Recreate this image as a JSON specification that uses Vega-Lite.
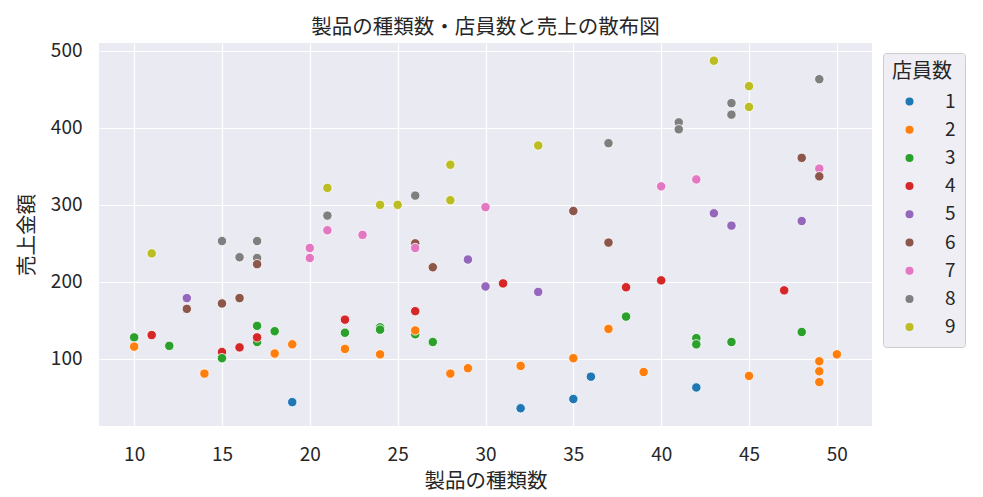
{
  "$schema": "https://vega.github.io/schema/vega-lite/v6.json",
  "width": 773,
  "height": 383,
  "autosize": {"type": "none"},
  "padding": {"left": 99, "top": 43, "right": 111, "bottom": 71},
  "background": "white",
  "title": {
    "text": "製品の種類数・店員数と売上の散布図",
    "font": "Noto Sans CJK JP",
    "fontSize": 20.5,
    "fontWeight": "normal",
    "color": "#262626",
    "baseline": "alphabetic",
    "offset": 11,
    "dy": 24,
    "anchor": "middle"
  },
  "config": {
    "view": {"fill": "#EAEAF2", "stroke": null},
    "font": "Noto Sans CJK JP"
  },
  "data": {
    "values": [
      {"products": 19, "sales": 44, "staff": 1},
      {"products": 32, "sales": 36, "staff": 1},
      {"products": 35, "sales": 48, "staff": 1},
      {"products": 36, "sales": 77, "staff": 1},
      {"products": 42, "sales": 63, "staff": 1},
      {"products": 15, "sales": 109, "staff": 4},
      {"products": 17, "sales": 122, "staff": 3},
      {"products": 26, "sales": 132, "staff": 3},
      {"products": 42, "sales": 127, "staff": 3},
      {"products": 10, "sales": 128, "staff": 3},
      {"products": 12, "sales": 117, "staff": 3},
      {"products": 15, "sales": 101, "staff": 3},
      {"products": 17, "sales": 143, "staff": 3},
      {"products": 18, "sales": 136, "staff": 3},
      {"products": 22, "sales": 134, "staff": 3},
      {"products": 24, "sales": 141, "staff": 3},
      {"products": 24, "sales": 138, "staff": 3},
      {"products": 27, "sales": 122, "staff": 3},
      {"products": 38, "sales": 155, "staff": 3},
      {"products": 42, "sales": 119, "staff": 3},
      {"products": 44, "sales": 122, "staff": 3},
      {"products": 48, "sales": 135, "staff": 3},
      {"products": 10, "sales": 116, "staff": 2},
      {"products": 14, "sales": 81, "staff": 2},
      {"products": 18, "sales": 107, "staff": 2},
      {"products": 19, "sales": 119, "staff": 2},
      {"products": 22, "sales": 113, "staff": 2},
      {"products": 24, "sales": 106, "staff": 2},
      {"products": 26, "sales": 137, "staff": 2},
      {"products": 28, "sales": 81, "staff": 2},
      {"products": 29, "sales": 88, "staff": 2},
      {"products": 32, "sales": 91, "staff": 2},
      {"products": 35, "sales": 101, "staff": 2},
      {"products": 37, "sales": 139, "staff": 2},
      {"products": 39, "sales": 83, "staff": 2},
      {"products": 45, "sales": 78, "staff": 2},
      {"products": 49, "sales": 97, "staff": 2},
      {"products": 49, "sales": 84, "staff": 2},
      {"products": 49, "sales": 70, "staff": 2},
      {"products": 50, "sales": 106, "staff": 2},
      {"products": 11, "sales": 131, "staff": 4},
      {"products": 16, "sales": 115, "staff": 4},
      {"products": 17, "sales": 128, "staff": 4},
      {"products": 22, "sales": 151, "staff": 4},
      {"products": 26, "sales": 162, "staff": 4},
      {"products": 31, "sales": 198, "staff": 4},
      {"products": 38, "sales": 193, "staff": 4},
      {"products": 40, "sales": 202, "staff": 4},
      {"products": 47, "sales": 189, "staff": 4},
      {"products": 13, "sales": 179, "staff": 5},
      {"products": 29, "sales": 229, "staff": 5},
      {"products": 30, "sales": 194, "staff": 5},
      {"products": 33, "sales": 187, "staff": 5},
      {"products": 43, "sales": 289, "staff": 5},
      {"products": 44, "sales": 273, "staff": 5},
      {"products": 48, "sales": 279, "staff": 5},
      {"products": 17, "sales": 231, "staff": 8},
      {"products": 13, "sales": 165, "staff": 6},
      {"products": 15, "sales": 172, "staff": 6},
      {"products": 16, "sales": 179, "staff": 6},
      {"products": 17, "sales": 223, "staff": 6},
      {"products": 26, "sales": 250, "staff": 6},
      {"products": 27, "sales": 219, "staff": 6},
      {"products": 35, "sales": 292, "staff": 6},
      {"products": 37, "sales": 251, "staff": 6},
      {"products": 48, "sales": 361, "staff": 6},
      {"products": 20, "sales": 244, "staff": 7},
      {"products": 20, "sales": 231, "staff": 7},
      {"products": 21, "sales": 267, "staff": 7},
      {"products": 23, "sales": 261, "staff": 7},
      {"products": 26, "sales": 244, "staff": 7},
      {"products": 30, "sales": 297, "staff": 7},
      {"products": 40, "sales": 324, "staff": 7},
      {"products": 42, "sales": 333, "staff": 7},
      {"products": 49, "sales": 347, "staff": 7},
      {"products": 49, "sales": 337, "staff": 6},
      {"products": 15, "sales": 253, "staff": 8},
      {"products": 16, "sales": 232, "staff": 8},
      {"products": 17, "sales": 253, "staff": 8},
      {"products": 21, "sales": 286, "staff": 8},
      {"products": 26, "sales": 312, "staff": 8},
      {"products": 37, "sales": 380, "staff": 8},
      {"products": 41, "sales": 407, "staff": 8},
      {"products": 41, "sales": 398, "staff": 8},
      {"products": 44, "sales": 432, "staff": 8},
      {"products": 44, "sales": 417, "staff": 8},
      {"products": 49, "sales": 463, "staff": 8},
      {"products": 11, "sales": 237, "staff": 9},
      {"products": 21, "sales": 322, "staff": 9},
      {"products": 24, "sales": 300, "staff": 9},
      {"products": 25, "sales": 300, "staff": 9},
      {"products": 28, "sales": 306, "staff": 9},
      {"products": 28, "sales": 352, "staff": 9},
      {"products": 33, "sales": 377, "staff": 9},
      {"products": 43, "sales": 487, "staff": 9},
      {"products": 45, "sales": 454, "staff": 9},
      {"products": 45, "sales": 427, "staff": 9}
    ]
  },
  "mark": {"type": "point", "filled": true, "size": 88, "stroke": "white", "strokeWidth": 0.8, "opacity": 1},
  "encoding": {
    "x": {
      "field": "products",
      "type": "quantitative",
      "scale": {"domain": [8, 52], "nice": false, "zero": false},
      "axis": {
        "title": "製品の種類数",
        "values": [10, 15, 20, 25, 30, 35, 40, 45, 50],
        "grid": true,
        "gridColor": "white",
        "gridWidth": 1.2,
        "domain": false,
        "ticks": false,
        "labelFontSize": 19,
        "labelColor": "#262626",
        "labelPadding": 19,
        "titleFontSize": 20.5,
        "titleFontWeight": "normal",
        "titleColor": "#262626",
        "titleBaseline": "alphabetic",
        "titleY": 61.5
      }
    },
    "y": {
      "field": "sales",
      "type": "quantitative",
      "scale": {"domain": [13, 510], "nice": false, "zero": false},
      "axis": {
        "title": "売上金額",
        "values": [100, 200, 300, 400, 500],
        "grid": true,
        "gridColor": "white",
        "gridWidth": 1.2,
        "domain": false,
        "ticks": false,
        "labelFontSize": 19,
        "labelColor": "#262626",
        "labelPadding": 17,
        "titleFontSize": 20.5,
        "titleFontWeight": "normal",
        "titleColor": "#262626",
        "titleBaseline": "alphabetic",
        "titleX": -65.5
      }
    },
    "color": {
      "field": "staff",
      "type": "nominal",
      "scale": {
        "domain": [1, 2, 3, 4, 5, 6, 7, 8, 9],
        "range": ["#1f77b4", "#ff7f0e", "#2ca02c", "#d62728", "#9467bd", "#8c564b", "#e377c2", "#7f7f7f", "#bcbd22"]
      },
      "legend": {
        "title": "店員数",
        "orient": "none",
        "legendX": 784,
        "legendY": 10,
        "padding": 9,
        "fillColor": "#EEEEF4",
        "strokeColor": "#CCCCCC",
        "cornerRadius": 3,
        "titleFontSize": 20,
        "titleFontWeight": "normal",
        "titleColor": "#262626",
        "titlePadding": 10,
        "labelFontSize": 19,
        "labelColor": "#262626",
        "symbolType": "circle",
        "symbolSize": 64,
        "symbolStrokeWidth": 0,
        "symbolOffset": 8,
        "labelOffset": 26,
        "rowPadding": 8.2
      }
    }
  }
}
